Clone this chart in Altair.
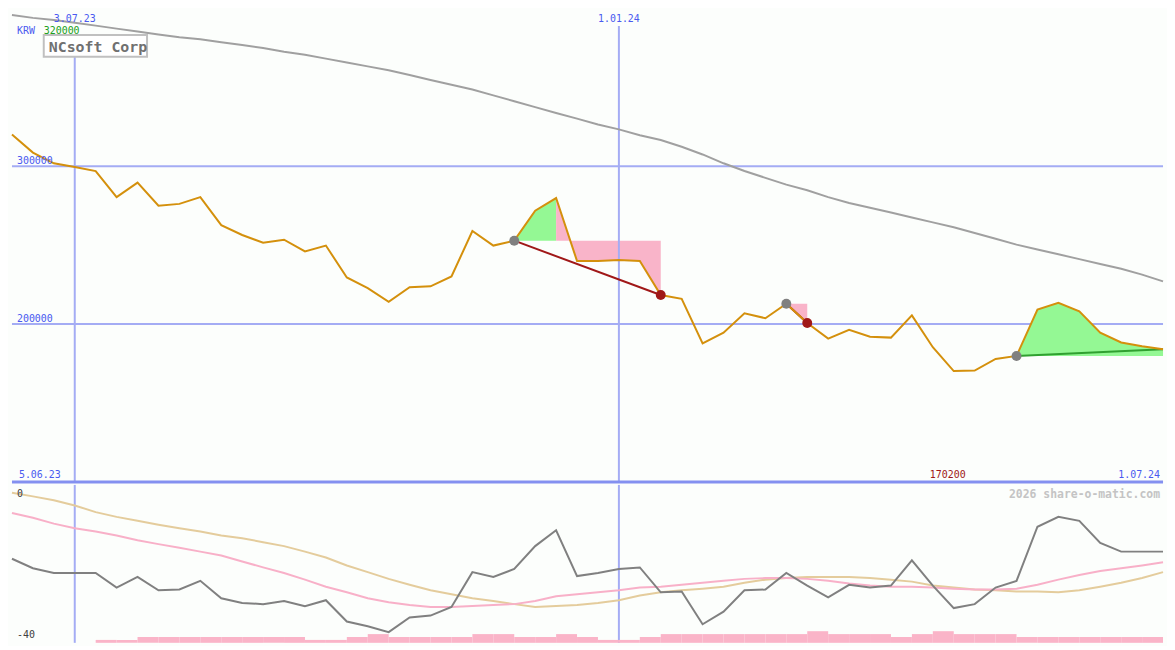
import altair as alt
import pandas as pd

# ---------------- data ----------------
weeks = pd.date_range("2023-06-12", "2024-07-01", freq="7D")
n = len(weeks)
week_keys = list(weeks.strftime("%Y-%m-%d"))

close = [320000, 308600, 301800, 299400, 296900, 280400, 289600, 274900, 276100, 280400,
         262600, 256400, 251500, 253400, 246000, 249700, 229500, 222700, 214100, 223300,
         223900, 230100, 258900, 249700, 252800, 271800, 279800, 239900, 239900, 240500,
         239900, 218400, 216000, 187700, 194500, 206800, 203700, 212900, 200600, 190800,
         196300, 192000, 191400, 205500, 185300, 170200, 170500, 177900, 179800, 209200,
         213500, 208000, 194500, 188300, 185900, 184100]

ma_long = [395700, 393900, 392600, 390800, 389000, 387100, 385300, 383400, 381600, 380400,
           378500, 376700, 374800, 372400, 370600, 368100, 365600, 363200, 360700, 357700,
           354600, 351500, 348500, 344800, 341100, 337400, 333700, 330100, 326400, 323300,
           319600, 316600, 312300, 307400, 301800, 296900, 292600, 288300, 284700, 280400,
           276700, 273600, 270600, 267500, 264400, 261300, 257700, 254000, 250300, 247200,
           244200, 241100, 238000, 235000, 231300, 227000]

osc = [-18.7, -21.1, -22.3, -22.3, -22.3, -26.0, -23.3, -26.7, -26.5, -24.3,
       -28.7, -29.9, -30.2, -29.4, -30.7, -29.2, -34.6, -35.8, -37.3, -33.6,
       -33.1, -30.9, -22.1, -23.3, -21.3, -15.5, -11.5, -23.1, -22.3, -21.3,
       -20.9, -27.2, -27.0, -35.3, -32.1, -26.7, -26.5, -22.3, -25.5, -28.5,
       -25.3, -26.0, -25.5, -19.1, -25.5, -31.2, -30.2, -26.0, -24.3, -10.6,
       -8.1, -9.1, -14.7, -16.9, -16.9, -16.9]

osc_fast = [-7.1, -8.3, -9.8, -11.0, -11.8, -12.8, -14.0, -15.0, -15.9, -16.9,
            -17.9, -19.4, -20.9, -22.3, -24.0, -25.8, -27.2, -28.7, -29.7, -30.4,
            -30.9, -30.9, -30.7, -30.4, -30.2, -29.4, -28.2, -27.7, -27.2, -26.7,
            -26.0, -25.8, -25.3, -24.8, -24.3, -23.8, -23.6, -23.6, -23.8, -24.3,
            -25.0, -25.5, -25.8, -25.8, -26.0, -26.3, -26.5, -26.5, -26.3, -25.3,
            -24.0, -22.8, -21.8, -21.1, -20.4, -19.6]

osc_slow = [-2.0, -2.9, -3.9, -5.2, -6.9, -8.1, -9.1, -10.1, -11.0, -11.8,
            -12.8, -13.5, -14.5, -15.5, -16.9, -18.4, -20.4, -22.1, -23.8, -25.3,
            -26.7, -27.7, -28.7, -29.4, -30.2, -30.9, -30.7, -30.4, -29.9, -29.2,
            -28.0, -27.2, -26.7, -26.3, -25.8, -24.8, -24.0, -23.6, -23.3, -23.3,
            -23.3, -23.6, -24.0, -24.5, -25.5, -26.0, -26.5, -26.7, -27.0, -27.0,
            -27.2, -26.7, -25.8, -24.8, -23.6, -22.1]

volume = [0, 0, 0, 0, 1, 1, 2, 2, 2, 2, 2, 2, 2, 2, 1, 1, 2, 3, 2, 2,
          2, 2, 3, 3, 2, 2, 3, 2, 1, 1, 2, 3, 3, 3, 3, 3, 3, 3, 4, 3,
          3, 3, 2, 3, 4, 3, 3, 3, 2, 2, 2, 2, 2, 2, 2]

# trades: (entry index, exit index or None for open)
trades = [(24, 31), (37, 38), (48, None)]
# fill segments: (trade number, kind, start index, end index)
fill_segments = [(0, "gain", 24, 26), (0, "loss", 26, 31), (1, "loss", 37, 38), (2, "gain", 48, 55)]

grid_prices = [300000, 200000]
bottom_price = 100000
top_price = 398773
marked_dates = ["2023-07-03", "2024-01-01"]
title_text = "NCsoft Corp"
currency = "KRW"
start_label = "5.06.23"
watermark = "2026 share-o-matic.com"
osc_labels = ["0", "-40"]


def fmt(d):
    return f"{d.day}.{d.month:02d}.{d.year % 100}"


# ---------------- styles ----------------
W, HT, HB = 1159, 475, 159
BG = "#fcfefc"
GRID = "#a4acf4"
DIV = "#8490f0"
BLUE = "#4a5af0"
FONT = "DejaVu Sans Mono"
PRICE_C = "#d4900c"
MA_C = "#a0a0a0"
GAIN = "#94f894"
LOSS = "#f9b4c9"

xs = alt.Scale(domain=[0, n - 1], nice=False, zero=False)
py = alt.Scale(domain=[bottom_price, top_price], nice=False, zero=False)
iy = alt.Scale(domain=[-40, 0], nice=False, zero=False)


def X(f="i"):
    return alt.X(f"{f}:Q", scale=xs, axis=None)


def YP(f):
    return alt.Y(f"{f}:Q", scale=py, axis=None)


def YI(f):
    return alt.Y(f"{f}:Q", scale=iy, axis=None)


df = pd.DataFrame({"i": list(range(n)), "close": close, "ma": ma_long,
                   "osc": osc, "fast": osc_fast, "slow": osc_slow})

rows = []
for k, (t, kind, a, b) in enumerate(fill_segments):
    lvl = close[trades[t][0]]
    for j in range(a, b + 1):
        rows.append({"seg": k, "kind": kind, "i": j, "p": close[j], "lvl": lvl})
fill_df = pd.DataFrame(rows)

tl = []
circ = []
for e, x in trades:
    end = x if x is not None else n - 1
    tl.append({"i": e, "p": close[e], "i2": end, "p2": close[end],
               "c": "#a01818" if x is not None else "#30a030"})
    circ.append({"i": e, "p": close[e], "c": "#808080"})
    if x is not None:
        circ.append({"i": x, "p": close[x], "c": "#a01818"})
tl_df = pd.DataFrame(tl)
circ_df = pd.DataFrame(circ)

vidx = [week_keys.index(d) for d in marked_dates]

# ---------------- top panel ----------------
hgrid = alt.Chart(pd.DataFrame({"p": grid_prices})).mark_rule(
    color=GRID, strokeWidth=2).encode(y=YP("p"))

fills = alt.Chart(fill_df).mark_area(opacity=1).encode(
    x=X(), y=YP("p"), y2="lvl:Q",
    color=alt.Color("kind:N", scale=alt.Scale(domain=["gain", "loss"], range=[GAIN, LOSS]), legend=None),
    detail="seg:N")

vr1 = alt.Chart(pd.DataFrame({"i": [vidx[0]]})).mark_rule(color=GRID, strokeWidth=2).encode(
    x=X(), y=alt.value(47), y2=alt.value(HT))
vr2 = alt.Chart(pd.DataFrame({"i": [vidx[1]]})).mark_rule(color=GRID, strokeWidth=2).encode(
    x=X(), y=alt.value(16), y2=alt.value(HT))

divider = alt.Chart(pd.DataFrame({"p": [bottom_price]})).mark_rule(
    color=DIV, strokeWidth=3).encode(y=YP("p"))

ma_line = alt.Chart(df).mark_line(color=MA_C, strokeWidth=2).encode(x=X(), y=YP("ma"))

trade_lines = alt.Chart(tl_df).mark_rule(strokeWidth=2).encode(
    x=X(), y=YP("p"), x2="i2:Q", y2="p2:Q", color=alt.Color("c:N", scale=None))

price_line = alt.Chart(df).mark_line(color=PRICE_C, strokeWidth=2).encode(x=X(), y=YP("close"))

circles = alt.Chart(circ_df).mark_circle(size=100, opacity=1).encode(
    x=X(), y=YP("p"), color=alt.Color("c:N", scale=None))

date_lbl = alt.Chart(pd.DataFrame({"i": vidx, "t": [fmt(weeks[k]) for k in vidx]})).mark_text(
    font=FONT, fontSize=10, color=BLUE, align="center", baseline="alphabetic").encode(
    x=X(), y=alt.value(12), text="t:N")

krw = alt.Chart(pd.DataFrame({"t": [currency]})).mark_text(
    font=FONT, fontSize=10, color=BLUE, align="left", baseline="alphabetic").encode(
    x=alt.value(5), y=alt.value(24), text="t:N")
first_px = alt.Chart(pd.DataFrame({"t": [str(close[0])]})).mark_text(
    font=FONT, fontSize=10, color="#20a020", align="left", baseline="alphabetic").encode(
    x=alt.value(32), y=alt.value(24), text="t:N")

box = alt.Chart(pd.DataFrame({"t": [title_text]})).mark_rect(
    fill="#ffffff", stroke="#c0c0c0", strokeWidth=2).encode(
    x=alt.value(32), x2=alt.value(136), y=alt.value(25), y2=alt.value(47))
title = alt.Chart(pd.DataFrame({"t": [title_text]})).mark_text(
    font=FONT, fontSize=15, fontWeight="bold", color="#707070", align="left",
    baseline="alphabetic").encode(
    x=alt.value(37), y=alt.value(42), text="t:N")

price_lbl = alt.Chart(pd.DataFrame({"p": grid_prices, "t": [str(v) for v in grid_prices]})).mark_text(
    font=FONT, fontSize=10, color=BLUE, align="left", baseline="alphabetic", dy=-2).encode(
    x=alt.value(5), y=YP("p"), text="t:N")

start_lbl = alt.Chart(pd.DataFrame({"t": [start_label]})).mark_text(
    font=FONT, fontSize=10, color=BLUE, align="left", baseline="alphabetic").encode(
    x=alt.value(7), y=alt.value(HT - 4), text="t:N")

imin = close.index(min(close))
min_lbl = alt.Chart(pd.DataFrame({"i": [imin], "t": [str(min(close))]})).mark_text(
    font=FONT, fontSize=10, color="#a01818", align="center", baseline="alphabetic", dx=-6).encode(
    x=X(), y=alt.value(HT - 4), text="t:N")

end_lbl = alt.Chart(pd.DataFrame({"i": [n - 1], "t": [fmt(weeks[-1])]})).mark_text(
    font=FONT, fontSize=10, color=BLUE, align="right", baseline="alphabetic", dx=-3).encode(
    x=X(), y=alt.value(HT - 4), text="t:N")

top = alt.layer(hgrid, fills, vr1, vr2, divider, ma_line, trade_lines, price_line, circles,
                date_lbl, krw, first_px, box, title, price_lbl, start_lbl, min_lbl, end_lbl
                ).properties(width=W, height=HT)

# ---------------- bottom panel ----------------
vdf = pd.DataFrame({"i": vidx})
vrb = alt.Chart(vdf).mark_rule(color=GRID, strokeWidth=2).encode(x=X())

vol_df = pd.DataFrame({"i": list(range(len(volume))),
                       "i2": [k + 1 for k in range(len(volume))],
                       "v": volume,
                       "z": [0] * len(volume)})
vol_df = vol_df[vol_df["v"] > 0]
bars = alt.Chart(vol_df).mark_rect(color="#fab4c8").encode(
    x=X(), x2="i2:Q",
    y=alt.Y("v:Q", scale=alt.Scale(domain=[0, 54.33], nice=False, zero=True), axis=None),
    y2="z:Q")

slow_line = alt.Chart(df).mark_line(color="#e4cc9c", strokeWidth=2).encode(x=X(), y=YI("slow"))
fast_line = alt.Chart(df).mark_line(color="#f8b0c8", strokeWidth=2).encode(x=X(), y=YI("fast"))
osc_line = alt.Chart(df).mark_line(color="#808080", strokeWidth=2).encode(x=X(), y=YI("osc"))

zero_lbl = alt.Chart(pd.DataFrame({"t": [osc_labels[0]]})).mark_text(
    font=FONT, fontSize=10, color="#404040", align="left", baseline="alphabetic").encode(
    x=alt.value(5), y=alt.value(12), text="t:N")
m40_lbl = alt.Chart(pd.DataFrame({"t": [osc_labels[1]]})).mark_text(
    font=FONT, fontSize=10, color="#404040", align="left", baseline="alphabetic").encode(
    x=alt.value(5), y=alt.value(HB - 5), text="t:N")
wm = alt.Chart(pd.DataFrame({"t": [watermark]})).mark_text(
    font=FONT, fontSize=11.5, fontWeight="bold", color="#c4c4c4", align="right",
    baseline="alphabetic").encode(x=alt.value(W - 3), y=alt.value(13), text="t:N")

bottom = alt.layer(vrb, bars, slow_line, fast_line, osc_line, zero_lbl, m40_lbl, wm
                   ).resolve_scale(y="independent").properties(width=W, height=HB)

chart = alt.vconcat(top, bottom, spacing=0).properties(
    padding=0, background=BG).configure_view(stroke=None)

chart.save("out.html", embed_options={"renderer": "svg", "actions": False})
